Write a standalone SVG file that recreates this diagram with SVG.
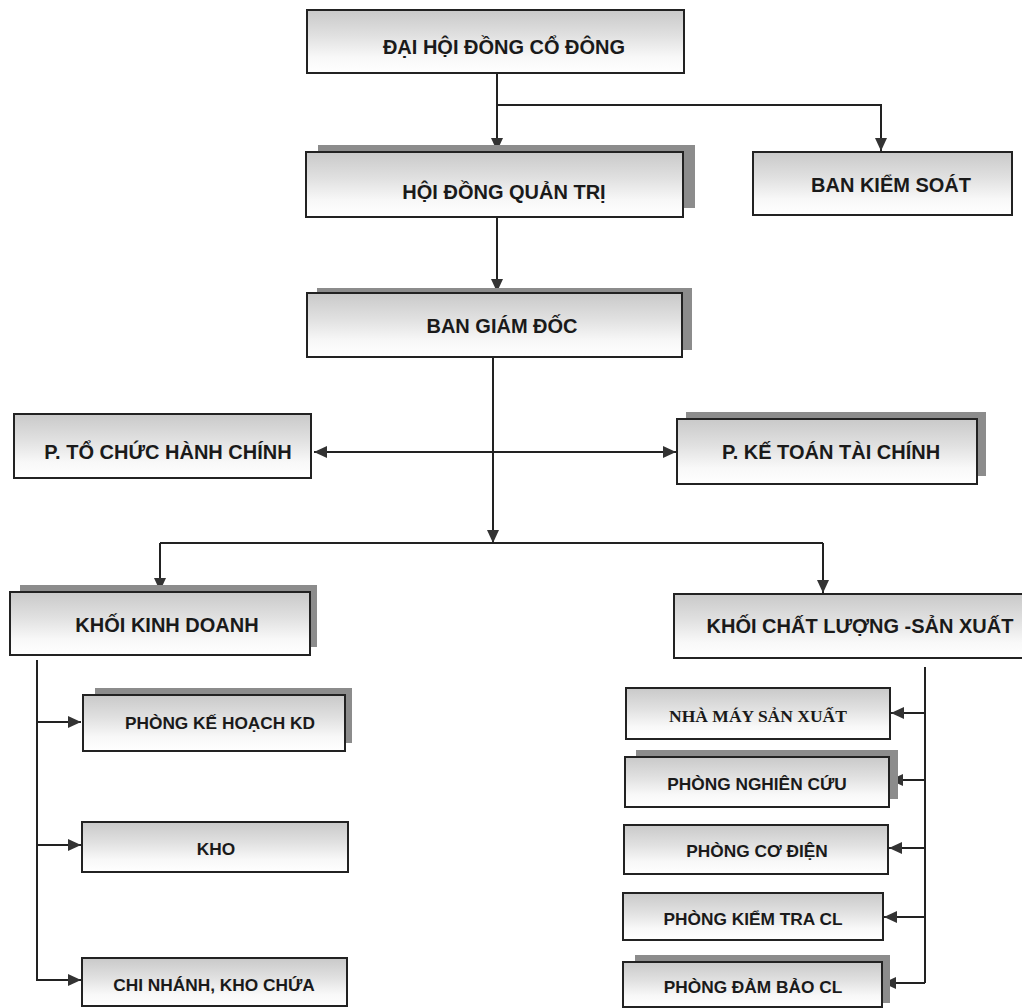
<svg xmlns="http://www.w3.org/2000/svg" width="1022" height="1008" viewBox="0 0 1022 1008">
<defs>
<linearGradient id="fill" x1="0" y1="0" x2="0" y2="1">
<stop offset="0" stop-color="#c9c9c9"/>
<stop offset="0.4" stop-color="#e0e0e0"/>
<stop offset="0.75" stop-color="#f8f8f8"/>
<stop offset="1" stop-color="#ffffff"/>
</linearGradient>
<marker id="arr" markerUnits="userSpaceOnUse" markerWidth="14" markerHeight="14" viewBox="0 0 14 14" refX="13" refY="7" orient="auto-start-reverse">
<path d="M0,1 L13,7 L0,13 Z" fill="#333"/>
</marker>
</defs>
<style>
.box{fill:url(#fill);stroke:#222;stroke-width:2}
.sh{fill:#8c8c8c}
.t{font-family:"Liberation Sans",Arial,sans-serif;font-weight:bold;fill:#1a1a1a;text-anchor:middle}
.big{font-size:20px}
.sm{font-size:17.3px}
.serif{font-family:"Liberation Serif","Times New Roman",serif;font-size:17.5px}
.ln{fill:none;stroke:#222;stroke-width:2}
</style>
<rect width="1022" height="1008" fill="#fff"/>

<g id="connectors">
<path class="ln" d="M497,73 V151" marker-end="url(#arr)"/>
<path class="ln" d="M497,105 H881 V151" marker-end="url(#arr)"/>
<path class="ln" d="M497,217 V292" marker-end="url(#arr)"/>
<path class="ln" d="M493,357 V543" marker-end="url(#arr)"/>
<path class="ln" d="M160,543 H823"/>
<path class="ln" d="M160,543 V591" marker-end="url(#arr)"/>
<path class="ln" d="M823,543 V593" marker-end="url(#arr)"/>
<path class="ln" d="M314,452 H676" marker-start="url(#arr)" marker-end="url(#arr)"/>
<path class="ln" d="M37,660 V980 H81"/>
<path class="ln" d="M37,722 H81" marker-end="url(#arr)"/>
<path class="ln" d="M37,845 H81" marker-end="url(#arr)"/>
<path class="ln" d="M37,980 H81" marker-end="url(#arr)"/>
<path class="ln" d="M925,667 V983"/>
<path class="ln" d="M925,713 H891" marker-end="url(#arr)"/>
<path class="ln" d="M925,780 H890" marker-end="url(#arr)"/>
<path class="ln" d="M925,848 H889" marker-end="url(#arr)"/>
<path class="ln" d="M925,917 H884" marker-end="url(#arr)"/>
<path class="ln" d="M925,983 H883" marker-end="url(#arr)"/>
</g>

<g id="dai-hoi-dong-co-dong">
<rect class="box" x="307" y="10" width="377" height="63"/>
<text class="t big" x="504" y="54">ĐẠI HỘI ĐỒNG CỔ ĐÔNG</text>
</g>
<g id="hoi-dong-quan-tri">
<rect class="sh" x="318" y="145" width="377" height="63"/>
<rect class="box" x="306" y="152" width="377" height="65"/>
<text class="t big" x="504" y="199">HỘI ĐỒNG QUẢN TRỊ</text>
</g>
<g id="ban-kiem-soat">
<rect class="box" x="753" y="152" width="259" height="63"/>
<text class="t big" x="891" y="192">BAN KIỂM SOÁT</text>
</g>
<g id="ban-giam-doc">
<rect class="sh" x="317" y="288" width="375" height="62"/>
<rect class="box" x="307" y="293" width="375" height="64"/>
<text class="t big" x="502" y="333">BAN GIÁM ĐỐC</text>
</g>
<g id="p-to-chuc-hanh-chinh">
<rect class="box" x="14" y="414" width="297" height="64"/>
<text class="t big" x="168" y="459">P. TỔ CHỨC HÀNH CHÍNH</text>
</g>
<g id="p-ke-toan-tai-chinh">
<rect class="sh" x="686" y="412" width="300" height="64"/>
<rect class="box" x="677" y="419" width="300" height="65"/>
<text class="t big" x="831" y="459">P. KẾ TOÁN TÀI CHÍNH</text>
</g>
<g id="khoi-kinh-doanh">
<rect class="sh" x="20" y="585" width="297" height="62"/>
<rect class="box" x="10" y="592" width="300" height="63"/>
<text class="t big" x="167" y="632">KHỐI KINH DOANH</text>
</g>
<g id="khoi-chat-luong-san-xuat">
<rect class="box" x="674" y="594" width="370" height="64"/>
<text class="t big" x="860" y="633">KHỐI CHẤT LƯỢNG -SẢN XUẤT</text>
</g>
<g id="phong-ke-hoach-kd">
<rect class="sh" x="95" y="688" width="257" height="55"/>
<rect class="box" x="83" y="695" width="262" height="56"/>
<text class="t sm" x="220" y="729">PHÒNG KẾ HOẠCH KD</text>
</g>
<g id="kho">
<rect class="box" x="82" y="822" width="266" height="50"/>
<text class="t sm" x="216" y="855">KHO</text>
</g>
<g id="chi-nhanh-kho-chua">
<rect class="box" x="82" y="958" width="265" height="48"/>
<text class="t sm" x="214" y="991">CHI NHÁNH, KHO CHỨA</text>
</g>
<g id="nha-may-san-xuat">
<rect class="box" x="626" y="688" width="264" height="51"/>
<text class="t serif" x="758" y="722">NHÀ MÁY SẢN XUẤT</text>
</g>
<g id="phong-nghien-cuu">
<rect class="sh" x="636" y="750" width="262" height="49"/>
<rect class="box" x="625" y="757" width="264" height="50"/>
<text class="t sm" x="757" y="790">PHÒNG NGHIÊN CỨU</text>
</g>
<g id="phong-co-dien">
<rect class="box" x="624" y="825" width="264" height="49"/>
<text class="t sm" x="757" y="857">PHÒNG CƠ ĐIỆN</text>
</g>
<g id="phong-kiem-tra-cl">
<rect class="box" x="623" y="893" width="260" height="47"/>
<text class="t sm" x="753" y="925">PHÒNG KIỂM TRA CL</text>
</g>
<g id="phong-dam-bao-cl">
<rect class="sh" x="635" y="955" width="255" height="48"/>
<rect class="box" x="623" y="962" width="259" height="45"/>
<text class="t sm" x="753" y="993">PHÒNG ĐẢM BẢO CL</text>
</g>
</svg>
